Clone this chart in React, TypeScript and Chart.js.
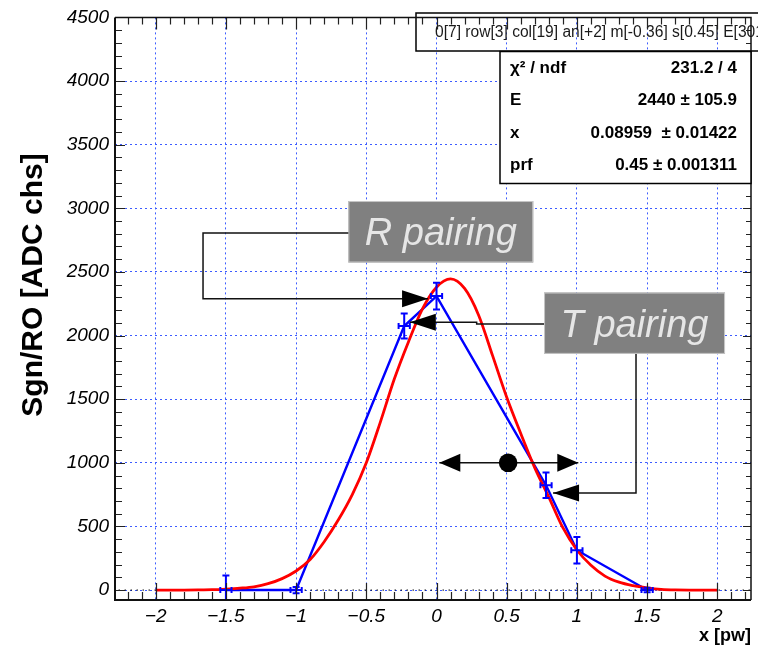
import { useEffect, useRef } from 'react';
import { Chart, registerables } from 'chart.js';

Chart.register(...registerables);

// ---------- data ----------
const xTicks = [-2, -1.5, -1, -0.5, 0, 0.5, 1, 1.5, 2];
const yTicks = [0, 500, 1000, 1500, 2000, 2500, 3000, 3500, 4000, 4500];

// measured points (blue graph with errors)
const pointX = [-1.5, -1, -0.23, 0, 0.78, 1, 1.5];
const pointY = [0, 0, 2075, 2310, 823, 313, 0];
const pointEY = [115, 25, 98, 105, 100, 105, 18];
const pointEX = [0.04, 0.04, 0.04, 0.04, 0.04, 0.04, 0.04];

// fitted curve (red)
const fitX = [
  -2.0, -1.9, -1.8, -1.7, -1.6, -1.5, -1.4, -1.3, -1.2, -1.1,
  -1.0, -0.9, -0.8, -0.7, -0.6, -0.5, -0.4, -0.3, -0.2, -0.1,
  0.0, 0.1, 0.2, 0.3, 0.4, 0.5, 0.6, 0.7, 0.8, 0.9,
  1.0, 1.1, 1.2, 1.3, 1.4, 1.5, 1.6, 1.7, 1.8, 1.9, 2.0,
];
const fitY = [
  0, 0, 0, 1, 3, 8, 15, 26, 50, 90,
  150, 240, 380, 550, 750, 1000, 1320, 1660, 1950, 2210,
  2380, 2445, 2370, 2160, 1840, 1515, 1230, 960, 730, 490,
  315, 195, 110, 62, 35, 18, 6, 1, 0, 0, 0,
];

// fit statistics box
const statsLabels = ['\u03c7\u00b2 / ndf', 'E', 'x', 'prf'];
const statsValues = ['231.2 / 4', '2440 \u00b1 105.9', '0.08959  \u00b1 0.01422', '0.45 \u00b1 0.001311'];
const titleText = '0[7] row[3] col[19] an[+2] m[-0.36] s[0.45] E[301]';

// annotations (data coordinates)
const rBox = { x0: -0.628, x1: 0.689, y0: 2574, y1: 3057, text: 'R pairing' };
const tBox = { x0: 0.766, x1: 2.055, y0: 1856, y1: 2338, text: 'T pairing' };
const rPathX = [-0.628, -1.663, -1.663, -0.06];
const rPathY = [2806, 2806, 2289, 2289];
const t1PathX = [0.766, 0.286, 0.286, -0.19];
const t1PathY = [2091, 2091, 2104, 2104];
const t2PathX = [1.421, 1.421, 0.83];
const t2PathY = [1856, 763, 763];
const spanX = [0.02, 1.01];
const spanY = 1000;
const spanDotX = 0.51;

// ---------- style ----------
const FONT = "'Liberation Sans', Arial, Helvetica, sans-serif";
const GRID_BLUE = '#3d5cff';

function fmtX(v: number) {
  return v < 0 ? '\u2212' + String(Math.abs(v)) : String(v);
}

function arrowHead(ctx: CanvasRenderingContext2D, tx: number, ty: number, fx: number, fy: number, len: number, half: number) {
  const dx = tx - fx;
  const dy = ty - fy;
  const d = Math.hypot(dx, dy) || 1;
  const ux = dx / d;
  const uy = dy / d;
  const bx = tx - ux * len;
  const by = ty - uy * len;
  const px = -uy;
  const py = ux;
  ctx.beginPath();
  ctx.moveTo(tx, ty);
  ctx.lineTo(bx + px * half, by + py * half);
  ctx.lineTo(bx - px * half, by - py * half);
  ctx.closePath();
  ctx.fill();
}

const decor = {
  id: 'rootDecor',
  beforeDraw(chart: any) {
    const { ctx, width, height } = chart;
    ctx.save();
    ctx.fillStyle = '#ffffff';
    ctx.fillRect(0, 0, width, height);
    ctx.restore();
  },
  beforeDatasetsDraw(chart: any) {
    const { ctx, chartArea: a, scales } = chart;
    const y0 = scales.y.getPixelForValue(0);
    ctx.save();
    ctx.strokeStyle = '#000';
    ctx.lineWidth = 1;
    ctx.setLineDash([1.5, 4.5]);
    ctx.lineDashOffset = 2.5;
    ctx.beginPath();
    ctx.moveTo(a.left, y0);
    ctx.lineTo(a.right, y0);
    ctx.stroke();
    ctx.restore();
  },
  afterDatasetsDraw(chart: any) {
    const { ctx, chartArea: a, scales } = chart;
    const xs = scales.x;
    const ys = scales.y;
    const X = (v: number) => xs.getPixelForValue(v);
    const Y = (v: number) => ys.getPixelForValue(v);

    // error bars
    ctx.save();
    ctx.beginPath();
    ctx.rect(a.left, a.top, a.right - a.left, a.bottom - a.top);
    ctx.clip();
    ctx.strokeStyle = '#0000ff';
    ctx.lineWidth = 2;
    for (let i = 0; i < pointX.length; i++) {
      const px = X(pointX[i]);
      const py = Y(pointY[i]);
      const yt = Y(pointY[i] + pointEY[i]);
      const yb = Y(pointY[i] - pointEY[i]);
      const xl = X(pointX[i] - pointEX[i]);
      const xr = X(pointX[i] + pointEX[i]);
      ctx.beginPath();
      ctx.moveTo(px, yt);
      ctx.lineTo(px, yb);
      ctx.moveTo(px - 3.5, yt);
      ctx.lineTo(px + 3.5, yt);
      ctx.moveTo(px - 3.5, yb);
      ctx.lineTo(px + 3.5, yb);
      ctx.moveTo(xl, py);
      ctx.lineTo(xr, py);
      ctx.moveTo(xl, py - 3);
      ctx.lineTo(xl, py + 3);
      ctx.moveTo(xr, py - 3);
      ctx.lineTo(xr, py + 3);
      ctx.stroke();
    }
    ctx.restore();

    // annotation boxes
    ctx.save();
    for (const b of [rBox, tBox]) {
      const l = X(b.x0);
      const r = X(b.x1);
      const t = Y(b.y1);
      const bt = Y(b.y0);
      ctx.fillStyle = '#808080';
      ctx.fillRect(l, t, r - l, bt - t);
      ctx.strokeStyle = '#c8c8c8';
      ctx.lineWidth = 1;
      ctx.strokeRect(l + 0.5, t + 0.5, r - l - 1, bt - t - 1);
      ctx.fillStyle = '#e6e6e6';
      ctx.font = `italic 38px ${FONT}`;
      ctx.textAlign = 'center';
      ctx.textBaseline = 'alphabetic';
      ctx.fillText(b.text, (l + r) / 2, (t + bt) / 2 + 13.5);
    }
    ctx.restore();

    // connector arrows
    ctx.save();
    ctx.strokeStyle = '#111';
    ctx.fillStyle = '#000';
    ctx.lineWidth = 1.5;
    const paths: [number[], number[]][] = [
      [rPathX, rPathY],
      [t1PathX, t1PathY],
      [t2PathX, t2PathY],
    ];
    for (const [px, py] of paths) {
      ctx.beginPath();
      for (let i = 0; i < px.length; i++) {
        const cx = X(px[i]);
        const cy = Y(py[i]);
        if (i === 0) ctx.moveTo(cx, cy);
        else ctx.lineTo(cx, cy);
      }
      ctx.stroke();
      const n = px.length;
      arrowHead(ctx, X(px[n - 1]), Y(py[n - 1]), X(px[n - 2]), Y(py[n - 2]), 26, 8.5);
    }
    // double arrow with dot
    const sy = Y(spanY);
    const sl = X(spanX[0]);
    const sr = X(spanX[1]);
    ctx.beginPath();
    ctx.moveTo(sl, sy);
    ctx.lineTo(sr, sy);
    ctx.stroke();
    arrowHead(ctx, sl, sy, sr, sy, 21, 9);
    arrowHead(ctx, sr, sy, sl, sy, 21, 9);
    ctx.beginPath();
    ctx.arc(X(spanDotX), sy, 9.3, 0, Math.PI * 2);
    ctx.fill();
    ctx.restore();
  },
  afterDraw(chart: any) {
    const { ctx, chartArea: a, scales } = chart;
    const xs = scales.x;
    const ys = scales.y;

    // title box (transparent)
    ctx.save();
    ctx.strokeStyle = '#000';
    ctx.lineWidth = 1.5;
    ctx.strokeRect(416, 13, 400, 38);
    ctx.fillStyle = '#1a1a1a';
    ctx.font = `15.6px ${FONT}`;
    ctx.textAlign = 'left';
    ctx.textBaseline = 'alphabetic';
    ctx.fillText(titleText, 435, 37);
    ctx.restore();

    // ticks
    ctx.save();
    ctx.strokeStyle = '#222';
    ctx.lineWidth = 1.2;
    ctx.beginPath();
    for (let k = -22; k <= 22; k++) {
      const v = k / 10;
      const px = Math.round(xs.getPixelForValue(v)) + 0.5;
      if (px < a.left || px > a.right) continue;
      const major = k % 5 === 0;
      const lb = major ? 17 : 8;
      const lt = major ? 12 : 7;
      ctx.moveTo(px, a.bottom);
      ctx.lineTo(px, a.bottom - lb);
      ctx.moveTo(px, a.top);
      ctx.lineTo(px, a.top + lt);
    }
    for (let k = 0; k <= 45; k++) {
      const v = k * 100;
      const py = Math.round(ys.getPixelForValue(v)) + 0.5;
      const major = k % 5 === 0;
      const ll = major ? 10 : 7;
      const lr = major ? 8 : 5;
      ctx.moveTo(a.left, py);
      ctx.lineTo(a.left + ll, py);
      ctx.moveTo(a.right, py);
      ctx.lineTo(a.right - lr, py);
    }
    ctx.stroke();

    // frame
    ctx.strokeStyle = '#111';
    ctx.lineWidth = 1.5;
    ctx.beginPath();
    ctx.moveTo(a.left, a.top);
    ctx.lineTo(a.right, a.top);
    ctx.lineTo(a.right, a.bottom);
    ctx.stroke();
    ctx.lineWidth = 2;
    ctx.beginPath();
    ctx.moveTo(a.left, a.top);
    ctx.lineTo(a.left, a.bottom);
    ctx.lineTo(a.right, a.bottom);
    ctx.stroke();
    ctx.restore();

    // stats box
    ctx.save();
    const sl = 500;
    const st = 51.5;
    const sw = 251;
    const sh = 132;
    ctx.fillStyle = '#fff';
    ctx.fillRect(sl, st, sw, sh);
    ctx.strokeStyle = '#000';
    ctx.lineWidth = 1.5;
    ctx.strokeRect(sl, st, sw, sh);
    ctx.fillStyle = '#000';
    ctx.font = `bold 17px ${FONT}`;
    ctx.textBaseline = 'middle';
    const rows = [68, 100.5, 133, 165];
    for (let i = 0; i < statsLabels.length; i++) {
      ctx.textAlign = 'left';
      ctx.fillText(statsLabels[i], 510, rows[i]);
      ctx.textAlign = 'right';
      ctx.fillText(statsValues[i], 737, rows[i]);
    }
    ctx.restore();

    // y title
    ctx.save();
    ctx.translate(42, 285);
    ctx.rotate(-Math.PI / 2);
    ctx.fillStyle = '#000';
    ctx.font = `bold 30px ${FONT}`;
    ctx.textAlign = 'center';
    ctx.textBaseline = 'alphabetic';
    ctx.fillText('Sgn/RO [ADC chs]', 0, 0);
    ctx.restore();
  },
};

export default function App() {
  const ref = useRef<HTMLCanvasElement>(null);
  useEffect(() => {
    const canvas = ref.current;
    if (!canvas) return;
    const chart = new Chart(canvas, {
      type: 'line',
      data: {
        datasets: [
          {
            label: 'fit',
            data: fitX.map((x, i) => ({ x, y: fitY[i] })),
            borderColor: '#ff0000',
            borderWidth: 2.8,
            pointRadius: 0,
            cubicInterpolationMode: 'monotone',
            fill: false,
          },
          {
            label: 'data',
            data: pointX.map((x, i) => ({ x, y: pointY[i] })),
            borderColor: '#0000ff',
            borderWidth: 2.4,
            pointRadius: 0,
            tension: 0,
            fill: false,
          },
        ],
      },
      options: {
        animation: false,
        responsive: false,
        devicePixelRatio: 1,
        layout: { padding: { top: 16, right: 7, left: 0, bottom: 0 } },
        plugins: {
          legend: { display: false },
          tooltip: { enabled: false },
        },
        scales: {
          x: {
            type: 'linear',
            min: -2.29,
            max: 2.24,
            afterBuildTicks: (s: any) => {
              s.ticks = xTicks.map((v) => ({ value: v }));
            },
            afterFit: (s: any) => {
              s.height = 47;
            },
            ticks: {
              autoSkip: false,
              maxRotation: 0,
              padding: 5,
              color: '#000',
              font: { family: FONT, size: 19, style: 'italic' },
              callback: (v: any) => fmtX(Number(v)),
            },
            grid: { color: GRID_BLUE, lineWidth: 1, drawTicks: false },
            border: { display: false, dash: [2, 3] },
            title: {
              display: true,
              text: 'x [pw]',
              align: 'end',
              color: '#000',
              font: { family: FONT, size: 18, weight: 'bold' },
              padding: { top: 0, bottom: 0 },
            },
          },
          y: {
            type: 'linear',
            min: -78,
            max: 4500,
            afterBuildTicks: (s: any) => {
              s.ticks = yTicks.map((v) => ({ value: v }));
            },
            afterFit: (s: any) => {
              s.width = 115;
            },
            ticks: {
              padding: 6,
              color: '#000',
              font: { family: FONT, size: 19, style: 'italic' },
              callback: (v: any) => String(v),
            },
            grid: { color: GRID_BLUE, lineWidth: 1, drawTicks: false },
            border: { display: false, dash: [2, 3] },
          },
        },
      },
      plugins: [decor],
    } as any);
    return () => chart.destroy();
  }, []);
  return (
    <div style={{ position: 'absolute', left: 0, top: 0, width: 758, height: 647, background: '#fff' }}>
      <canvas ref={ref} width={758} height={647} style={{ display: 'block', width: 758, height: 647 }} />
    </div>
  );
}
